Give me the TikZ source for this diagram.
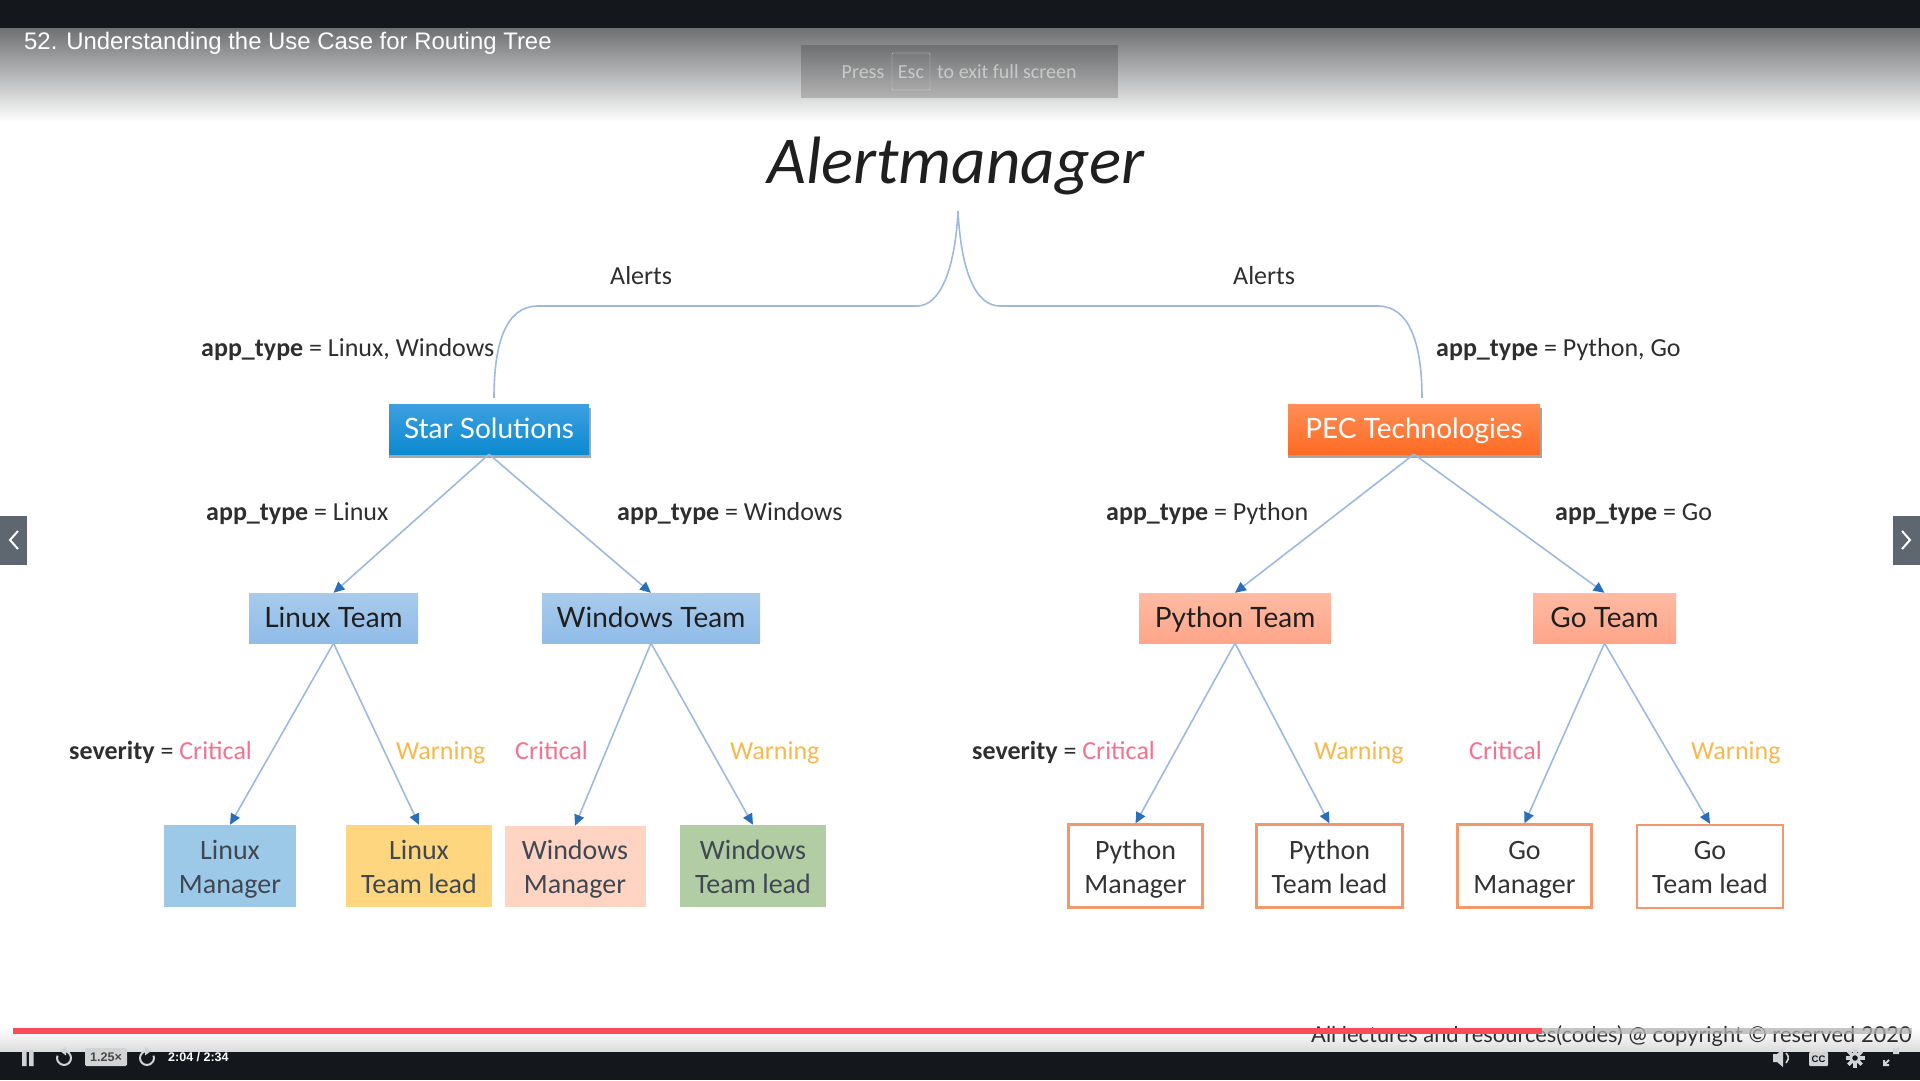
\documentclass[tikz,border=0pt]{standalone}
\usepackage{fontspec}
\setmainfont{Carlito}
\newfontfamily\boxfont{Lato}
\newfontfamily\playerfont{Liberation Sans}
\usetikzlibrary{arrows.meta,shadows}

\definecolor{barblack}{HTML}{14181D}
\definecolor{fadegray}{HTML}{6E7072}
\definecolor{tabgray}{HTML}{5E6770}
\definecolor{linkblue}{HTML}{9DB9E0}
\definecolor{tipblue}{HTML}{2A6EBB}
\definecolor{critred}{HTML}{F4728E}
\definecolor{warnamber}{HTML}{F9B84C}
\definecolor{leafink}{HTML}{3F4852}
\definecolor{iconwhite}{HTML}{D2D3D5}
\definecolor{progressred}{HTML}{FB4A59}
\definecolor{startop}{HTML}{3DA0E0}
\definecolor{starbottom}{HTML}{0C8AD0}
\definecolor{pectop}{HTML}{FF8E57}
\definecolor{pecbottom}{HTML}{FC6B22}
\definecolor{blueteamtop}{HTML}{A8CBEC}
\definecolor{blueteambottom}{HTML}{90BCE8}
\definecolor{redteamtop}{HTML}{FDBBA3}
\definecolor{redteambottom}{HTML}{FFA589}
\definecolor{leafblue}{HTML}{9DC9E9}
\definecolor{leafamber}{HTML}{FFD680}
\definecolor{leafpeach}{HTML}{FFD4C2}
\definecolor{leafgreen}{HTML}{B2CCA4}
\definecolor{leafedge}{HTML}{F2986B}

\newcommand{\apptype}{\textbf{app\_type}}
\newcommand{\sevlabel}{\textbf{severity}}
\newcommand{\tworows}[2]{\rule{0pt}{31pt}#1\\\strut #2}

\tikzset{
  every node/.style={inner sep=0pt},
  label/.style={anchor=west,text=black!82,text height=23pt,text depth=6pt,font=\fontsize{26}{30}\selectfont},
  critical/.style={label,text=critred},
  warning/.style={label,text=warnamber},
  company/.style={rectangle,text=white,text height=25pt,text depth=6pt,font=\boxfont\fontsize{28}{34}\selectfont,
    drop shadow={shadow xshift=1pt,shadow yshift=-4pt,opacity=.7,shadow scale=1.01}},
  team/.style={rectangle,text=black!88,text height=24pt,text depth=6pt,font=\boxfont\fontsize{28}{34}\selectfont},
  blueteam/.style={team,top color=blueteamtop,bottom color=blueteambottom},
  redteam/.style={team,top color=redteamtop,bottom color=redteambottom},
  leaf/.style={rectangle,align=center,text=leafink,font=\fontsize{28}{34}\selectfont},
  outlined/.style={leaf,draw=leafedge,line width=2.2pt,text=black!80},
  link/.style={draw=linkblue,line width=1.6pt},
  tree/.style={link,-{Triangle[color=tipblue,length=11pt,width=10pt]}}
}

\begin{document}
\begin{tikzpicture}[x=1pt,y=-1pt]
  \useasboundingbox (0,0) rectangle (1920,1080);

  % player chrome behind the slide
  \shade[top color=fadegray,bottom color=white] (0,28) rectangle (1920,122);
  \shade[top color=white,bottom color=black!14] (0,1028) rectangle (1920,1052);
  \node[anchor=west,text=black!82,font=\boxfont\fontsize{21.9}{26}\selectfont] (copyright) at (1311,1036) {All lectures and resources(codes) @ copyright © reserved 2020};
  \fill[black!30,opacity=.75] (1542,1028) rectangle (1912,1034);
  \fill[progressred] (13,1028) rectangle (1542,1034);
  \fill[barblack] (0,0) rectangle (1920,28);
  \fill[barblack] (0,1052) rectangle (1920,1080);

  \node[anchor=west,text=white,font=\playerfont\fontsize{23.9}{28}\selectfont] (lecture) at (24,43) {52. Understanding the Use Case for Routing Tree};
  \fill[black,opacity=.18] (801,45) rectangle (1118,98);
  \draw[white,opacity=.6,rounded corners=1pt] (892,53) rectangle (930,90);
  \node[text=white,opacity=.5,font=\fontsize{20}{24}\selectfont] (press) at (863,72) {Press};
  \node[text=white,opacity=.5,font=\fontsize{20}{24}\selectfont] (esc) at (911,72) {Esc};
  \node[anchor=west,text=white,opacity=.5,font=\fontsize{20}{24}\selectfont] (exitmsg) at (937,72) {to exit full screen};

  \fill[tabgray] (0,516) rectangle (27,565);
  \fill[tabgray] (1893,516) rectangle (1920,565);
  \draw[white,line width=2pt] (18,531) -- (10,540) -- (18,549);
  \draw[white,line width=2pt] (1902,531) -- (1910,540) -- (1902,549);

  % title
  \node[text=black!88,font=\itshape\fontsize{67}{72}\selectfont] (title) at (956,166) {Alertmanager};

  % companies
  \node[company,top color=startop,bottom color=starbottom,minimum width=200pt,minimum height=50pt] (star) at (489,429) {Star Solutions};
  \node[company,top color=pectop,bottom color=pecbottom,minimum width=252pt,minimum height=50pt] (pec) at (1414,429) {PEC Technologies};

  % teams
  \node[blueteam,minimum width=169pt,minimum height=50pt] (linuxteam) at (333.5,618) {Linux Team};
  \node[blueteam,minimum width=218pt,minimum height=50pt] (windowsteam) at (651,618) {Windows Team};
  \node[redteam,minimum width=192pt,minimum height=50pt] (pythonteam) at (1235,618) {Python Team};
  \node[redteam,minimum width=143pt,minimum height=50pt] (goteam) at (1604.5,618) {Go Team};

  % people
  \node[leaf,fill=leafblue,minimum width=132pt,minimum height=82pt] (linuxmgr) at (230,866) {\tworows{Linux}{Manager}};
  \node[leaf,fill=leafamber,minimum width=146pt,minimum height=82pt] (linuxlead) at (419,866) {\tworows{Linux}{Team lead}};
  \node[leaf,fill=leafpeach,minimum width=141pt,minimum height=81pt] (windowsmgr) at (575,866.5) {\tworows{Windows}{Manager}};
  \node[leaf,fill=leafgreen,minimum width=146pt,minimum height=82pt] (windowslead) at (753,866) {\tworows{Windows}{Team lead}};
  \node[outlined,minimum width=134pt,minimum height=83pt] (pythonmgr) at (1135.5,866) {\tworows{Python}{Manager}};
  \node[outlined,minimum width=146pt,minimum height=83pt] (pythonlead) at (1329.5,866) {\tworows{Python}{Team lead}};
  \node[outlined,minimum width=134pt,minimum height=83pt] (gomgr) at (1524.5,866) {\tworows{Go}{Manager}};
  \node[outlined,minimum width=146pt,minimum height=83pt] (golead) at (1710,866.5) {\tworows{Go}{Team lead}};

  % routing from the top
  \coordinate (trunk) at (958,211);
  \draw[link,shorten >=6pt] (trunk) .. controls (955,270) and (940,306) .. (917,306)
    -- (538,306) .. controls (505,306) and (494,345) .. ([xshift=5pt]star.north);
  \draw[link,shorten >=6pt] (trunk) .. controls (961,270) and (975,306) .. (1000,306)
    -- (1378,306) .. controls (1410,306) and (1422,345) .. ([xshift=8pt]pec.north);
  \foreach \parent/\child in {star/linuxteam,star/windowsteam,pec/pythonteam,pec/goteam,
      linuxteam/linuxmgr,linuxteam/linuxlead,windowsteam/windowsmgr,windowsteam/windowslead,
      pythonteam/pythonmgr,pythonteam/pythonlead,goteam/gomgr,goteam/golead}
    \draw[tree] (\parent.south) -- (\child.north);

  % labels
  \node[label] (alertsleft) at (610,276) {Alerts};
  \node[label] (alertsright) at (1233,276) {Alerts};
  \node[label] (routeleft) at (201,348) {\apptype{} = Linux, Windows};
  \node[label] (routeright) at (1436,348) {\apptype{} = Python, Go};
  \node[label] (routelinux) at (206,512) {\apptype{} = Linux};
  \node[label] (routewindows) at (617,512) {\apptype{} = Windows};
  \node[label] (routepython) at (1106,512) {\apptype{} = Python};
  \node[label] (routego) at (1555,512) {\apptype{} = Go};
  \node[label] (sevleft) at (69,751) {\sevlabel{} = \textcolor{critred}{Critical}};
  \node[warning] (warnlinux) at (396,751) {Warning};
  \node[critical] (critwindows) at (515,751) {Critical};
  \node[warning] (warnwindows) at (730,751) {Warning};
  \node[label] (sevright) at (972,751) {\sevlabel{} = \textcolor{critred}{Critical}};
  \node[warning] (warnpython) at (1314,751) {Warning};
  \node[critical] (critgo) at (1469,751) {Critical};
  \node[warning] (warngo) at (1691,751) {Warning};

  % player controls
  \fill[iconwhite] (22,1050) rectangle (26.5,1066) (29,1050) rectangle (33.5,1066);
  \draw[iconwhite,line width=2pt] (64,1051) arc (-90:200:7);
  \fill[iconwhite] (66,1046.5) -- (60,1051) -- (66,1055.5) -- cycle;
  \fill[iconwhite,rounded corners=1.5pt] (85,1048) rectangle (127,1066);
  \node[text=black!72,font=\playerfont\bfseries\fontsize{12.5}{14}\selectfont] (speed) at (106,1057) {1.25×};
  \draw[iconwhite,line width=2pt] (147,1051) arc (-90:-380:7);
  \fill[iconwhite] (145,1046.5) -- (151,1051) -- (145,1055.5) -- cycle;
  \node[anchor=west,text=white,font=\playerfont\bfseries\fontsize{12.5}{14}\selectfont] (clock) at (168,1057) {2:04 / 2:34};
  \fill[iconwhite] (1773,1054) -- (1777,1054) -- (1783,1049) -- (1783,1067) -- (1777,1062) -- (1773,1062) -- cycle;
  \draw[iconwhite,line width=1.6pt] (1786,1053) arc (-50:50:6.5);
  \fill[iconwhite,rounded corners=1pt] (1809,1052) rectangle (1828,1066);
  \node[text=barblack,font=\playerfont\bfseries\fontsize{9.5}{11}\selectfont] (cc) at (1818.5,1059) {CC};
  \foreach \a in {0,45,...,315}
    \draw[iconwhite,line width=3.5pt] (1855,1058) ++(\a:5) -- ++(\a:4.5);
  \draw[iconwhite,line width=3pt] (1855,1058) circle (4.5);
  \draw[iconwhite,line width=2pt] (1884,1065) -- (1889,1060) (1884,1060) -- (1884,1065) -- (1889,1065);
  \draw[iconwhite,line width=2pt] (1899,1048) -- (1894,1053) (1899,1053) -- (1894,1053) -- (1894,1048);
\end{tikzpicture}
\end{document}
